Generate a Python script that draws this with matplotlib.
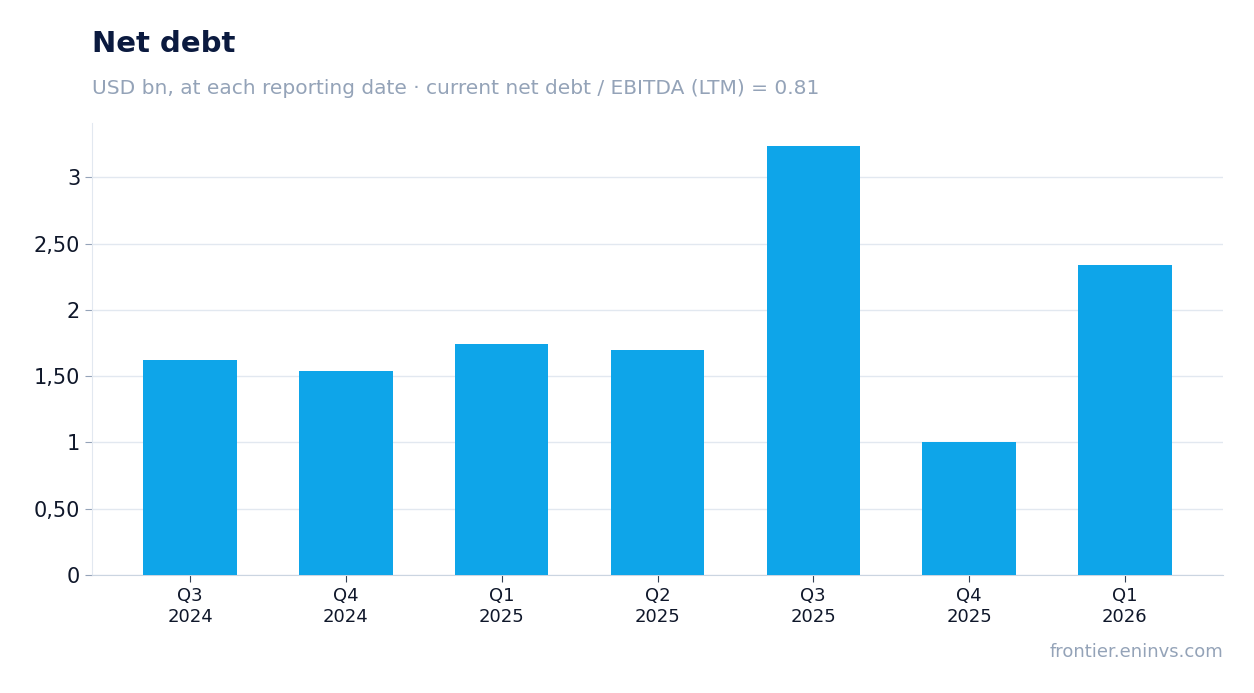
import matplotlib
matplotlib.use("Agg")
import matplotlib.pyplot as plt

categories = ["Q3\n2024", "Q4\n2024", "Q1\n2025", "Q2\n2025", "Q3\n2025", "Q4\n2025", "Q1\n2026"]
values = [1.62, 1.54, 1.74, 1.70, 3.24, 1.00, 2.34]
yticks = [0, 0.5, 1, 1.5, 2, 2.5, 3]
ytick_labels = ["0", "0,50", "1", "1,50", "2", "2,50", "3"]

fig = plt.figure(figsize=(12.54, 6.93), dpi=100)
ax = fig.add_axes([92/1254, 1-575/693, (1223-92)/1254, (575-123)/693])
x = list(range(len(categories)))
ax.bar(x, values, width=0.6, color="#0EA5E9", zorder=3)
ax.set_xlim(-0.63, len(categories) - 1 + 0.63)
ax.set_ylim(0, 3.41)
ax.set_yticks(yticks)
ax.set_yticklabels(ytick_labels, fontsize=15, color="#0F172A")
ax.set_xticks(x)
ax.set_xticklabels(categories, fontsize=13, color="#0F172A")
ax.grid(axis="y", color="#E2E8F0", linewidth=1, zorder=0)
for s in ["top", "right"]:
    ax.spines[s].set_visible(False)
ax.spines["left"].set_color("#E2E8F0")
ax.spines["bottom"].set_color("#CBD5E1")
ax.tick_params(axis="y", length=5, color="#94A3B8")
ax.tick_params(axis="x", length=5, color="#334155")

fig.text(92/1254, 1-44/693, "Net debt", fontsize=21, fontweight="bold", color="#0B1A3F", va="center")
fig.text(92/1254, 1-88/693, "USD bn, at each reporting date · current net debt / EBITDA (LTM) = 0.81",
         fontsize=14.5, color="#94A3B8", va="center")
fig.text(1223/1254, 1-652/693, "frontier.eninvs.com", fontsize=13, color="#94A3B8", va="center", ha="right")
fig.savefig("out.png", dpi=100)
